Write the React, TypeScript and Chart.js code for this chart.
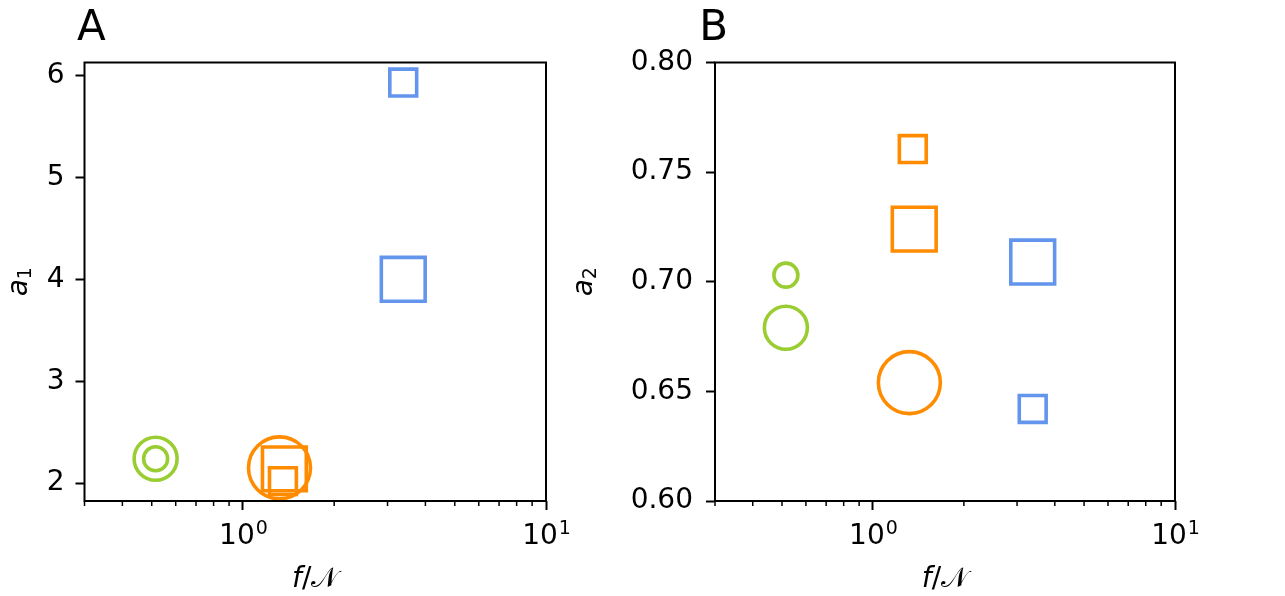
import { useEffect, useRef } from 'react';
import { Chart, registerables } from 'chart.js';

Chart.register(...registerables);

const FONT = '"DejaVu Sans", sans-serif';

// f/N for every marker (same in both panels)
const markerX = [0.515, 0.515, 1.32, 1.37, 1.355, 3.38, 3.38];
// panel A, a1
const a1Values = [2.24, 2.24, 2.15, 2.14, 2.02, 5.93, 4.0];
// panel B, a2
const a2Values = [0.703, 0.679, 0.654, 0.724, 0.7605, 0.642, 0.709];

const xMajorTicks = [1, 10];
const xMinorTicks = [0.3, 0.4, 0.5, 0.6, 0.7, 0.8, 0.9, 2, 3, 4, 5, 6, 7, 8, 9];
const a1Ticks = [2, 3, 4, 5, 6];
const a2Ticks = [0.6, 0.65, 0.7, 0.75, 0.8];

// marker look, same order as markerX
const markerColors = ['#9acd32', '#9acd32', '#ff8c00', '#ff8c00', '#ff8c00', '#6495ed', '#6495ed'];
const markerShapes = ['circle', 'circle', 'circle', 'rect', 'rect', 'rect', 'rect'];
const markerRadius = [12, 21.5, 31, 31, 19, 19, 31];
const MARKER_EDGE = 3.6;

const decor = {
  id: 'decor',
  afterDraw(chart: any, _args: any, opts: any) {
    const { ctx, chartArea: a, scales } = chart;
    ctx.save();
    ctx.strokeStyle = '#000';
    ctx.fillStyle = '#000';

    // axes frame
    ctx.lineWidth = 2;
    ctx.strokeRect(a.left, a.top, a.right - a.left, a.bottom - a.top);

    // minor ticks on the log axis
    ctx.lineWidth = 1.5;
    for (const v of xMinorTicks) {
      const px = scales.x.getPixelForValue(v);
      ctx.beginPath();
      ctx.moveTo(px, a.bottom);
      ctx.lineTo(px, a.bottom + 5);
      ctx.stroke();
    }

    ctx.textAlign = 'left';
    ctx.textBaseline = 'alphabetic';

    // major tick labels 10^n with a raised exponent
    const base = `28px ${FONT}`;
    const supFont = `19px ${FONT}`;
    for (const v of xMajorTicks) {
      const px = scales.x.getPixelForValue(v);
      const exp = String(Math.round(Math.log10(v)));
      ctx.font = base;
      const wb = ctx.measureText('10').width;
      ctx.font = supFont;
      const we = ctx.measureText(exp).width;
      const x0 = px - (wb + we) / 2;
      ctx.font = base;
      ctx.fillText('10', x0, a.bottom + 43);
      ctx.font = supFont;
      ctx.fillText(exp, x0 + wb + 1, a.bottom + 32.5);
    }

    // panel letter
    ctx.font = `42px ${FONT}`;
    ctx.fillText(opts.letter, a.left + opts.letterDx, 40);

    // y title: a with subscript
    const main = `italic 28px ${FONT}`;
    const sub = `19px ${FONT}`;
    ctx.save();
    ctx.translate(opts.yBaseX, (a.top + a.bottom) / 2);
    ctx.rotate(-Math.PI / 2);
    ctx.font = main;
    const w1 = ctx.measureText('a').width;
    ctx.font = sub;
    const w2 = ctx.measureText(opts.ySub).width;
    const start = -(w1 + w2) / 2;
    ctx.font = main;
    ctx.fillText('a', start, 0);
    ctx.font = sub;
    ctx.fillText(opts.ySub, start + w1, 4);
    ctx.restore();

    // x title f/N
    const parts = [
      ['f', `italic 28px ${FONT}`],
      ['/', `28px ${FONT}`],
      ['𝒩', `28px ${FONT}`],
    ];
    let total = 0;
    const widths = parts.map(([t, f]) => {
      ctx.font = f;
      const w = ctx.measureText(t).width;
      total += w;
      return w;
    });
    let x = (a.left + a.right) / 2 - total / 2;
    parts.forEach(([t, f], i) => {
      ctx.font = f;
      ctx.fillText(t, x, 587);
      x += widths[i];
    });

    ctx.restore();
  },
};

type PanelProps = {
  left: number;
  width: number;
  plotLeft: number;
  plotRight: number;
  yValues: number[];
  yTicks: number[];
  yMin: number;
  yMax: number;
  yDigits: number;
  yPad: number;
  letter: string;
  letterDx: number;
  ySub: string;
  yBaseX: number;
};

const Panel = (p: PanelProps) => {
  const canvasRef = useRef<HTMLCanvasElement | null>(null);

  useEffect(() => {
    const canvas = canvasRef.current;
    if (!canvas) return;

    const tickFont = { family: FONT, size: 28 };

    const chart = new Chart(canvas, {
      type: 'scatter',
      data: {
        datasets: markerX.map((x, i) => ({
          data: [{ x, y: p.yValues[i] }],
          pointStyle: markerShapes[i],
          pointRadius: markerRadius[i],
          pointBorderWidth: MARKER_EDGE,
          borderWidth: MARKER_EDGE,
          borderColor: markerColors[i],
          pointBorderColor: markerColors[i],
          backgroundColor: 'rgba(0,0,0,0)',
          pointBackgroundColor: 'rgba(0,0,0,0)',
          showLine: false,
          clip: false,
        })),
      },
      options: {
        responsive: false,
        animation: false,
        events: [],
        elements: {
          point: { borderWidth: MARKER_EDGE },
        },
        layout: {
          padding: { left: 0, top: 62.5, right: p.width - p.plotRight, bottom: 0 },
        },
        plugins: {
          legend: { display: false },
          tooltip: { enabled: false },
          decor: { letter: p.letter, letterDx: p.letterDx, ySub: p.ySub, yBaseX: p.yBaseX },
        },
        scales: {
          x: {
            type: 'logarithmic',
            min: 0.3,
            max: 10,
            afterBuildTicks: (s: any) => {
              s.ticks = xMajorTicks.map((v) => ({ value: v, major: true }));
            },
            afterFit: (s: any) => {
              s.height = 596 - 501;
            },
            ticks: {
              autoSkip: false,
              maxRotation: 0,
              padding: 13,
              color: '#000',
              font: tickFont,
              // drawn by the decor plugin with a raised exponent
              callback: () => '',
            },
            grid: {
              display: true,
              drawOnChartArea: false,
              drawTicks: true,
              tickLength: 9,
              tickWidth: 2,
              tickColor: '#000',
            },
            border: { display: false },
          },
          y: {
            type: 'linear',
            min: p.yMin,
            max: p.yMax,
            afterBuildTicks: (s: any) => {
              s.ticks = p.yTicks.map((v) => ({ value: v }));
            },
            afterFit: (s: any) => {
              s.width = p.plotLeft;
            },
            ticks: {
              padding: p.yPad,
              color: '#000',
              font: tickFont,
              callback: (v: any) => Number(v).toFixed(p.yDigits),
            },
            grid: {
              display: true,
              drawOnChartArea: false,
              drawTicks: true,
              tickLength: 9,
              tickWidth: 2,
              tickColor: '#000',
            },
            border: { display: false },
          },
        },
      },
      plugins: [decor],
    } as any);

    return () => {
      chart.destroy();
    };
  }, []);

  return (
    <canvas
      ref={canvasRef}
      width={p.width}
      height={596}
      style={{ position: 'absolute', left: p.left, top: 0, width: p.width, height: 596 }}
    />
  );
};

const App = () => {
  return (
    <div style={{ position: 'absolute', left: 0, top: 0, width: 1285, height: 596, background: '#fff' }}>
      <Panel
        left={0}
        width={600}
        plotLeft={84.5}
        plotRight={546}
        yValues={a1Values}
        yTicks={a1Ticks}
        yMin={1.825}
        yMax={6.127}
        yDigits={0}
        yPad={11}
        letter="A"
        letterDx={-7.5}
        ySub="1"
        yBaseX={26.7}
      />
      <Panel
        left={560}
        width={725}
        plotLeft={155}
        plotRight={615}
        yValues={a2Values}
        yTicks={a2Ticks}
        yMin={0.6}
        yMax={0.8}
        yDigits={2}
        yPad={13}
        letter="B"
        letterDx={-15.8}
        ySub="2"
        yBaseX={32}
      />
    </div>
  );
};

export default App;
